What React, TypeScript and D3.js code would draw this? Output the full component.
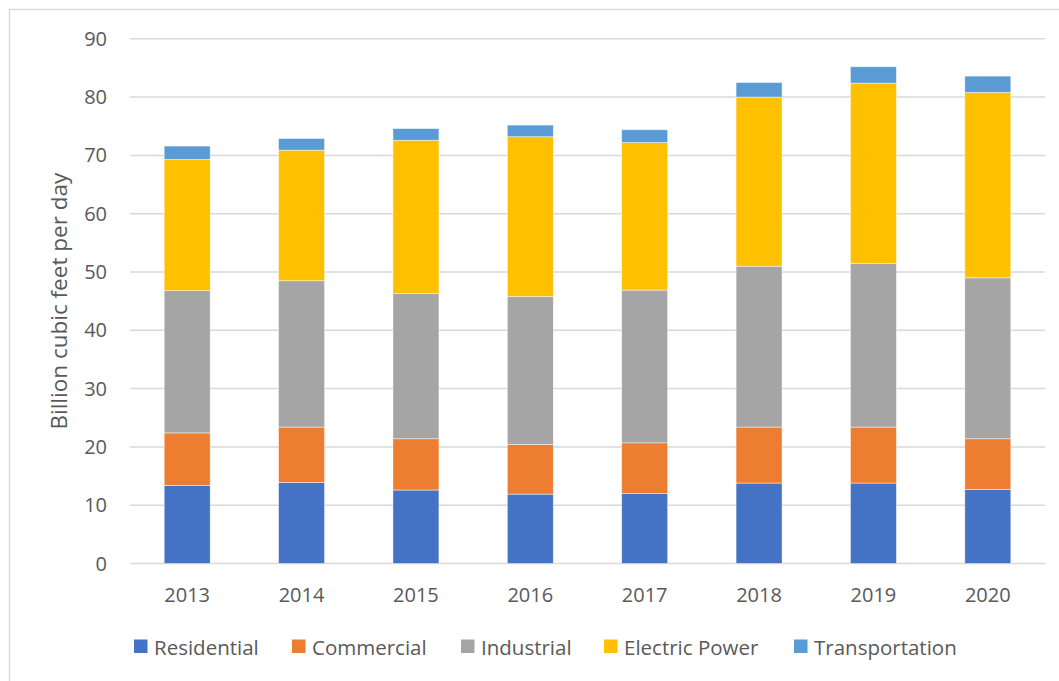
import React from "react";
import * as d3 from "d3";

const years = ["2013", "2014", "2015", "2016", "2017", "2018", "2019", "2020"];
const seriesNames = ["Residential", "Commercial", "Industrial", "Electric Power", "Transportation"];
const seriesColors = ["#4472C4", "#ED7D31", "#A5A5A5", "#FFC000", "#5B9BD5"];
const residential = [13.4, 13.9, 12.6, 11.9, 12.0, 13.8, 13.8, 12.7];
const commercial = [9.0, 9.5, 8.8, 8.5, 8.7, 9.6, 9.6, 8.7];
const industrial = [24.4, 25.1, 24.9, 25.4, 26.2, 27.6, 28.1, 27.6];
const electricPower = [22.5, 22.4, 26.3, 27.4, 25.3, 29.0, 30.9, 31.8];
const transportation = [2.3, 2.0, 2.0, 2.0, 2.2, 2.5, 2.8, 2.8];
const yTicks = [0, 10, 20, 30, 40, 50, 60, 70, 80, 90];

const W = 1059;
const H = 681;
const FONT = "'Open Sans', sans-serif";
const TEXT = "#595959";

export default function App() {
  const seriesValues = [residential, commercial, industrial, electricPower, transportation];
  const rows = years.map((y, i) => {
    const r: Record<string, any> = { year: y };
    seriesNames.forEach((n, s) => (r[n] = seriesValues[s][i]));
    return r;
  });
  const stacked = d3.stack<any>().keys(seriesNames)(rows);

  const x = d3.scaleBand().domain(years).range([130, 1045]).paddingInner(0.598).paddingOuter(0.299);
  const y = d3.scaleLinear().domain([0, 90]).range([563.5, 38.8]);

  const legendX = [134, 292, 461, 604, 794];

  return (
    <svg width={W} height={H} style={{ position: "absolute", left: 0, top: 0, background: "#fff" }}>
      <rect x={9.5} y={9.5} width={W + 10} height={H + 10} fill="#fff" stroke="#D9D9D9" strokeWidth={1.5} />
      {yTicks.map((t) => (
        <line key={t} x1={130} x2={1045} y1={y(t)} y2={y(t)} stroke="#D9D9D9" strokeWidth={1.5} />
      ))}
      {yTicks.map((t) => (
        <text key={"l" + t} x={107} y={y(t)} dy="0.35em" textAnchor="end" fontFamily={FONT} fontSize={20} fill={TEXT}>
          {t}
        </text>
      ))}
      {stacked.map((layer, s) =>
        layer.map((d, i) => (
          <rect
            key={s + "-" + i}
            x={x(years[i])}
            width={x.bandwidth()}
            y={y(d[1])}
            height={y(d[0]) - y(d[1])}
            fill={seriesColors[s]}
            stroke="#fff"
            strokeOpacity={0.6}
            strokeWidth={0.75}
          />
        ))
      )}
      {years.map((yr) => (
        <text key={yr} x={(x(yr) as number) + x.bandwidth() / 2} y={602} textAnchor="middle" fontFamily={FONT} fontSize={20} fill={TEXT}>
          {yr}
        </text>
      ))}
      <text
        transform={`translate(67, ${(y(0) + y(90)) / 2}) rotate(-90)`}
        textAnchor="middle"
        fontFamily={FONT}
        fontSize={22.5}
        fill={TEXT}
      >
        Billion cubic feet per day
      </text>
      {seriesNames.map((n, s) => (
        <g key={n} transform={`translate(${legendX[s]}, 0)`}>
          <rect x={0} y={639.5} width={13.5} height={13.5} fill={seriesColors[s]} />
          <text x={20} y={654.5} fontFamily={FONT} fontSize={20.5} fill={TEXT}>
            {n}
          </text>
        </g>
      ))}
    </svg>
  );
}
